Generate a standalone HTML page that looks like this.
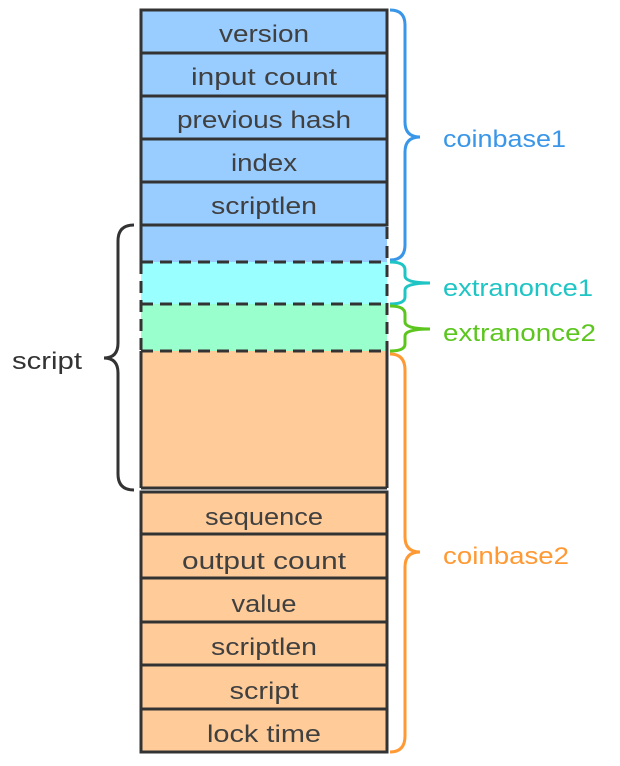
<!DOCTYPE html>
<html><head><meta charset="utf-8"><style>
html,body{margin:0;padding:0;background:#fff;}
svg{display:block;}
text{font-family:"Liberation Sans",sans-serif;font-size:24px;}
</style></head><body>
<svg width="620" height="766" viewBox="0 0 620 766" xmlns="http://www.w3.org/2000/svg">
<g stroke="#333" stroke-width="3">
<rect x="141" y="10" width="246" height="43" fill="#99ccff"/>
<rect x="141" y="53" width="246" height="43" fill="#99ccff"/>
<rect x="141" y="96" width="246" height="43" fill="#99ccff"/>
<rect x="141" y="139" width="246" height="43" fill="#99ccff"/>
<rect x="141" y="182" width="246" height="43" fill="#99ccff"/>
</g>
<rect x="141" y="225" width="246" height="37" fill="#99ccff"/>
<rect x="141" y="262" width="246" height="42" fill="#99ffff"/>
<rect x="141" y="304" width="246" height="47" fill="#99ffcc"/>
<rect x="141" y="351" width="246" height="137" fill="#ffcc99"/>
<g stroke="#333" stroke-width="3" fill="none">
<line x1="141" y1="225" x2="387" y2="225"/>
<line x1="141" y1="225" x2="141" y2="262"/>
<line x1="141" y1="351" x2="141" y2="488"/>
<line x1="387" y1="351" x2="387" y2="488"/>
<line x1="141" y1="488" x2="387" y2="488"/>
</g>
<g stroke="#333" stroke-width="3" fill="none" stroke-dasharray="12,7">
<line x1="387" y1="227" x2="387" y2="351"/>
<line x1="141" y1="262" x2="141" y2="351"/>
<line x1="141" y1="262" x2="387" y2="262"/>
<line x1="141" y1="304" x2="387" y2="304"/>
<line x1="141" y1="351" x2="387" y2="351"/>
</g>
<g stroke="#333" stroke-width="3" fill="#ffcc99">
<rect x="141" y="492" width="246" height="42"/>
<rect x="141" y="534" width="246" height="44"/>
<rect x="141" y="578" width="246" height="44"/>
<rect x="141" y="622" width="246" height="43"/>
<rect x="141" y="665" width="246" height="44"/>
<rect x="141" y="709" width="246" height="43"/>
</g>
<g fill="#404040" text-anchor="middle" lengthAdjust="spacingAndGlyphs">
<text x="264" y="42" textLength="90" lengthAdjust="spacingAndGlyphs">version</text>
<text x="264" y="85" textLength="146" lengthAdjust="spacingAndGlyphs">input count</text>
<text x="264" y="128" textLength="174" lengthAdjust="spacingAndGlyphs">previous hash</text>
<text x="264" y="171" textLength="66" lengthAdjust="spacingAndGlyphs">index</text>
<text x="264" y="214" textLength="106" lengthAdjust="spacingAndGlyphs">scriptlen</text>
<text x="264" y="525" textLength="118" lengthAdjust="spacingAndGlyphs">sequence</text>
<text x="264" y="569" textLength="164" lengthAdjust="spacingAndGlyphs">output count</text>
<text x="264" y="612" textLength="65" lengthAdjust="spacingAndGlyphs">value</text>
<text x="264" y="655" textLength="106" lengthAdjust="spacingAndGlyphs">scriptlen</text>
<text x="264" y="699" textLength="69" lengthAdjust="spacingAndGlyphs">script</text>
<text x="264" y="742" textLength="114" lengthAdjust="spacingAndGlyphs">lock time</text>
</g>
<g fill="none" stroke-width="3">
<path d="M390 10 Q405 10 405 25 L405 122 Q405 137 420 137 Q405 137 405 152 L405 245 Q405 260 390 260" stroke="#3a96e8"/>
<path d="M390 262 Q405 262 405 270 L405 276 Q405 283 430 283 Q405 283 405 290 L405 297 Q405 304 390 304" stroke="#1fc5c5"/>
<path d="M390 306 Q405 306 405 314 L405 322 Q405 329 430 329 Q405 329 405 336 L405 344 Q405 351 390 351" stroke="#5cc61f"/>
<path d="M390 354 Q405 354 405 370 L405 537 Q405 552 420 552 Q405 552 405 567 L405 736 Q405 752 390 752" stroke="#ff9933"/>
<path d="M134 225 Q118 225 118 241 L118 343 Q118 358 104 358 Q118 358 118 373 L118 474 Q118 490 134 490" stroke="#333"/>
</g>
<text x="443" y="147" fill="#3a96e8" textLength="123" lengthAdjust="spacingAndGlyphs">coinbase1</text>
<text x="443" y="296" fill="#1fc5c5" textLength="150" lengthAdjust="spacingAndGlyphs">extranonce1</text>
<text x="443" y="341" fill="#5cc61f" textLength="153" lengthAdjust="spacingAndGlyphs">extranonce2</text>
<text x="443" y="564" fill="#ff9933" textLength="126" lengthAdjust="spacingAndGlyphs">coinbase2</text>
<text x="12" y="369" fill="#333" textLength="70" lengthAdjust="spacingAndGlyphs">script</text>
</svg>
</body></html>
